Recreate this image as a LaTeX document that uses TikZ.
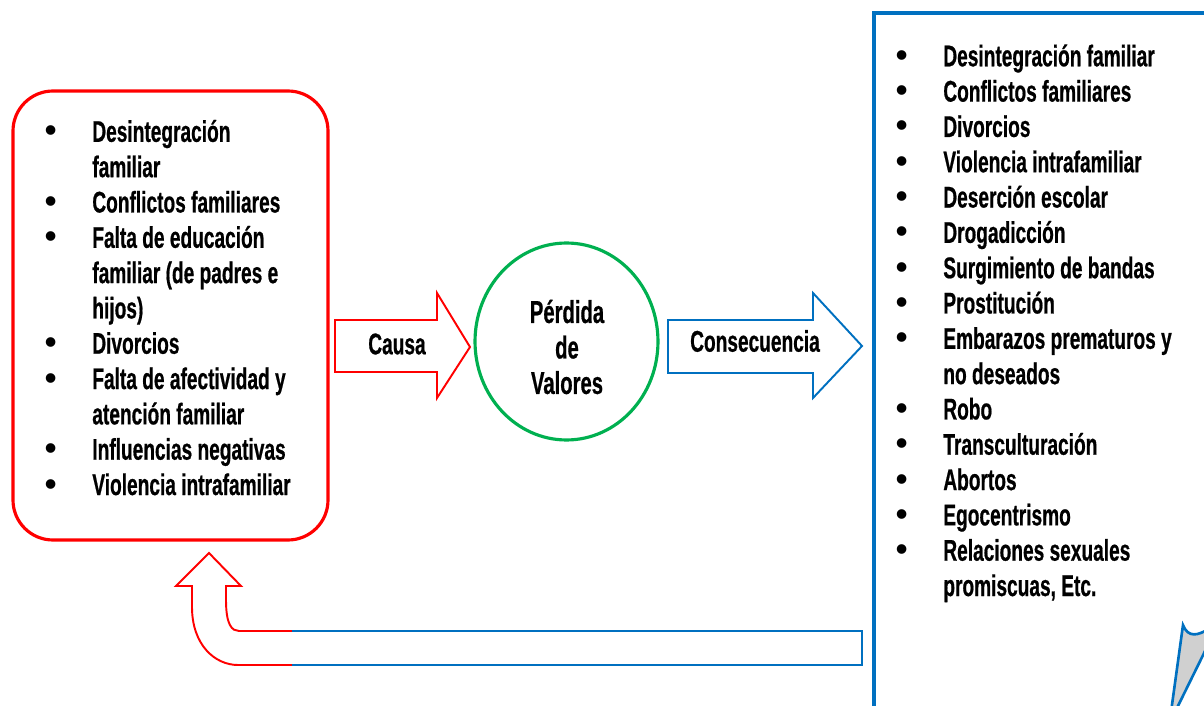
\documentclass[tikz,border=0pt]{standalone}
\usepackage{fontspec}
\setmainfont{Liberation Sans}[FakeStretch=0.64, BoldFeatures={FakeBold=0.6}]
\newfontfamily\bulletfont{Liberation Sans}
\usetikzlibrary{shapes.geometric}

\definecolor{rojo}{HTML}{FF0000}
\definecolor{verde}{HTML}{00B050}
\definecolor{azul}{HTML}{0070C0}
\definecolor{gris}{HTML}{D0D0D0}

% bullet hung to the left of the line
\newcommand{\bul}{\llap{\makebox[0.2cm]{\fontsize{19}{20}\bulletfont\textbullet}\hspace{0.734cm}}}

\begin{document}
\begin{tikzpicture}[x=0.02cm, y=-0.02cm,
  texto/.style={font=\fontsize{17}{20.1}\selectfont\bfseries, inner sep=0pt},
  lista/.style={texto, align=left, anchor=base west},
  flecha/.style={line width=1.1pt, line join=miter},
  marco/.style={line width=1.8pt}]
  \useasboundingbox (0,0) rectangle (1204,706);

  % causas
  \draw[rojo, marco, rounded corners=0.8cm] (13,91) rectangle (328,540);
  \node[lista] (causas) at (92,495) {\bul Desintegración\\
    familiar\\
    \bul Conflictos familiares\\
    \bul Falta de educación\\
    familiar (de padres e\\
    hijos)\\
    \bul Divorcios\\
    \bul Falta de afectividad y\\
    atención familiar\\
    \bul Influencias negativas\\
    \bul Violencia intrafamiliar};

  % causa -> perdida
  \draw[rojo, flecha] (335,320) -- (437,320) -- (437,293) -- (470,347)
    -- (437,398) -- (437,372) -- (335,372) -- cycle;
  \node[texto] (causa) at (397,344) {Causa};

  \node[draw=verde, marco, ellipse, minimum width=3.66cm, minimum height=3.94cm]
    (perdida) at (566.5,341.5) {};
  \node[texto, font=\fontsize{18}{20.2}\selectfont\bfseries, align=center]
    (valores) at (567,347) {Pérdida\\de\\Valores};

  % perdida -> consecuencias
  \draw[azul, flecha] (668,320) -- (813,320) -- (813,293) -- (862,346)
    -- (813,398) -- (813,373) -- (668,373) -- cycle;
  \node[texto] (consecuencia) at (755,341) {Consecuencia};

  % consecuencias
  \draw[azul, marco] (874,720) -- (874,13) -- (1220,13);
  \node[lista] (consecuencias) at (943,596)
    {\bul Desintegración familiar\\
    \bul Conflictos familiares\\
    \bul Divorcios\\
    \bul Violencia intrafamiliar\\
    \bul Deserción escolar\\
    \bul Drogadicción\\
    \bul Surgimiento de bandas\\
    \bul Prostitución\\
    \bul Embarazos prematuros y\\
    no deseados\\
    \bul Robo\\
    \bul Transculturación\\
    \bul Abortos\\
    \bul Egocentrismo\\
    \bul Relaciones sexuales\\
    promiscuas, Etc.};
  \draw[azul, line width=1.5pt, fill=gris] (1183,625) .. controls (1188,638) and (1198,636) .. (1210,628)
    -- (1210,641) -- (1175,712) -- (1171,712) -- cycle;

  % vuelta hacia las causas
  \draw[rojo, flecha] (292,631) -- (239,631) .. controls (232,631) and (226,625) .. (226,600)
    -- (226,586) -- (241,586) -- (209,553) -- (176,586) -- (192,586) -- (192,607)
    .. controls (192,645) and (215,665) .. (238,665) -- (292,665);
  \draw[azul, flecha] (292,631) -- (862,631) -- (862,665) -- (292,665);
\end{tikzpicture}
\end{document}
